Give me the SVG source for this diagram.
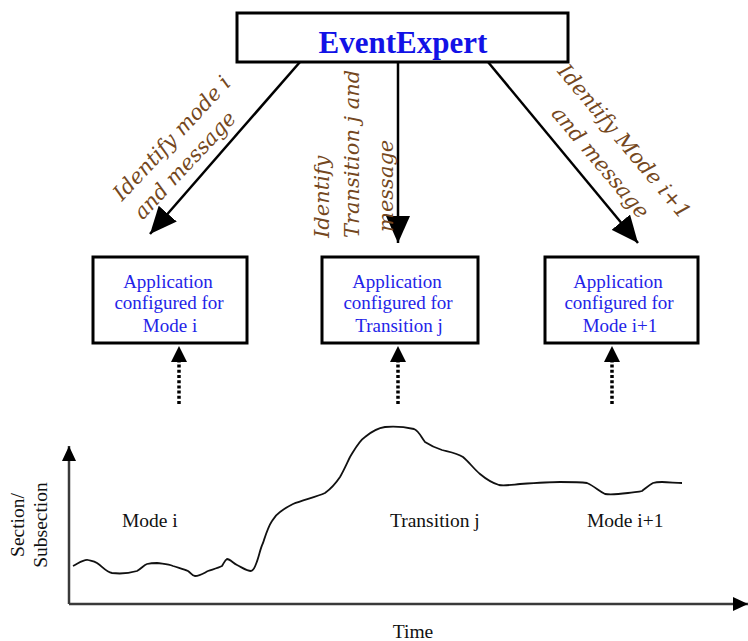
<svg xmlns="http://www.w3.org/2000/svg" width="748" height="641" viewBox="0 0 748 641">
  <style>
    .box { fill: #ffffff; stroke: #000000; stroke-width: 3; }
    .app { font-family: "Liberation Serif", "Times New Roman", serif; font-size: 19px; fill: #2323e8; text-anchor: middle; }
    .title { font-family: "Liberation Serif", "Times New Roman", serif; font-size: 31px; font-weight: bold; fill: #1212e6; text-anchor: middle; }
    .act { font-family: "DejaVu Serif", serif; font-style: italic; font-size: 21px; fill: #744720; }
    .graph { font-family: "Liberation Serif", "Times New Roman", serif; font-size: 19.5px; fill: #111111; }
    .link { stroke: #000000; stroke-width: 2.5; fill: none; }
    .dot { stroke: #000000; stroke-width: 3.5; stroke-dasharray: 3 2.2; fill: none; }
    .axis { stroke: #3a3a3a; stroke-width: 2.5; fill: none; }
  </style>
  <defs>
    <marker id="head" markerUnits="userSpaceOnUse" viewBox="0 0 27 24" refX="27" refY="12" markerWidth="27" markerHeight="24" orient="auto">
      <path d="M0,0 L27,12 L0,24 Z" fill="#000000"/>
    </marker>
    <marker id="axisHead" markerUnits="userSpaceOnUse" viewBox="0 0 15 14" refX="15" refY="7" markerWidth="15" markerHeight="14" orient="auto">
      <path d="M0,0 L15,7 L0,14 Z" fill="#000000"/>
    </marker>
  </defs>

  <!-- central event detector -->
  <g id="event-expert">
    <rect class="box" x="237" y="13" width="331" height="49"/>
    <text class="title" x="403" y="53">EventExpert</text>
  </g>

  <!-- configured application states -->
  <g id="app-mode-i">
    <rect class="box" x="93" y="257" width="154" height="86"/>
    <text class="app" x="168" y="288">Application</text>
    <text class="app" x="169" y="309">configured for</text>
    <text class="app" x="170" y="332">Mode i</text>
  </g>
  <g id="app-transition-j">
    <rect class="box" x="322" y="257" width="156" height="86"/>
    <text class="app" x="397" y="288">Application</text>
    <text class="app" x="398" y="309">configured for</text>
    <text class="app" x="399" y="332">Transition j</text>
  </g>
  <g id="app-mode-i1">
    <rect class="box" x="545" y="257" width="153" height="86"/>
    <text class="app" x="618" y="288">Application</text>
    <text class="app" x="619" y="309">configured for</text>
    <text class="app" x="620" y="332">Mode i+1</text>
  </g>

  <!-- connectors from the detector and from the signal -->
  <g id="connectors">
    <line class="link" x1="300" y1="62" x2="150" y2="234" marker-end="url(#head)"/>
    <line class="link" x1="398" y1="62" x2="398" y2="243" marker-end="url(#head)"/>
    <line class="link" x1="488" y1="62" x2="638" y2="243" marker-end="url(#head)"/>
    <line class="dot" x1="179" y1="404" x2="179" y2="362"/>
    <path d="M179,346 L187,362 L171,362 Z" fill="#000000"/>
    <line class="dot" x1="398" y1="404" x2="398" y2="362"/>
    <path d="M398,346 L406,362 L390,362 Z" fill="#000000"/>
    <line class="dot" x1="612" y1="404" x2="612" y2="362"/>
    <path d="M612,346 L620,362 L604,362 Z" fill="#000000"/>
  </g>

  <!-- connector labels -->
  <g id="label-mode-i">
    <text class="act" text-anchor="middle" transform="translate(177,143) rotate(-47)">Identify mode i</text>
    <text class="act" text-anchor="middle" transform="translate(190,170) rotate(-47)">and message</text>
  </g>
  <g id="label-transition-j">
    <text class="act" transform="translate(329,238) rotate(-90)">Identify</text>
    <text class="act" transform="translate(359,238) rotate(-90)">Transition j and</text>
    <text class="act" transform="translate(393,232) rotate(-90)">message</text>
  </g>
  <g id="label-mode-i1">
    <text class="act" text-anchor="middle" transform="translate(619,146) rotate(50)">Identify Mode i+1</text>
    <text class="act" text-anchor="middle" transform="translate(595,167) rotate(50)">and message</text>
  </g>

  <!-- signal plot -->
  <g id="plot">
    <line class="axis" x1="69" y1="604" x2="69" y2="446" marker-end="url(#axisHead)"/>
    <line class="axis" x1="69" y1="604" x2="748" y2="604" marker-end="url(#axisHead)"/>
    <path d="M73,566 C79,563 84,559 88,560 C92,561 94,561 97,563 C103,567 106,572 112,573 C120,574 130,573 137,571 C142,568 144,565 147,564 C151,563 154,563 157,563 C163,564 168,564 173,566 C179,568 184,569 188,571 C191,573 192,576 195,576 C200,576 204,573 208,571 C214,569 218,568 222,566 C224,563 225,560 227,559 C230,559 233,563 237,565 C243,568 247,571 251,571 C254,570 255,567 256,564 C259,557 260,549 263,543 C266,534 268,527 272,521 C275,516 277,514 280,512 C285,508 289,506 293,504 C303,500 316,497 325,493 C332,488 336,483 340,477 C344,470 347,463 350,457 C355,449 359,441 365,437 C371,432 378,428 385,427 C395,426 405,427 414,429 C419,431 421,437 425,442 C431,446 436,448 442,450 C450,452 457,453 463,457 C469,462 474,469 480,474 C486,479 492,483 499,485 C504,486 510,485 520,484 C535,483 550,482 560,482 C570,482 580,482 587,483 C594,486 599,491 605,494 C612,495 620,494 628,493 C635,492 639,492 642,491 C646,488 649,485 653,483 C656,482 659,482 662,482 C669,482 676,483 682,483" fill="none" stroke="#111111" stroke-width="1.8"/>
    <text class="graph" x="122" y="527">Mode i</text>
    <text class="graph" x="390" y="527">Transition j</text>
    <text class="graph" x="587" y="527">Mode i+1</text>
    <text class="graph" text-anchor="middle" transform="translate(24,525) rotate(-90)">Section/</text>
    <text class="graph" text-anchor="middle" transform="translate(47,525) rotate(-90)">Subsection</text>
    <text class="graph" text-anchor="middle" x="413" y="638">Time</text>
  </g>
</svg>
